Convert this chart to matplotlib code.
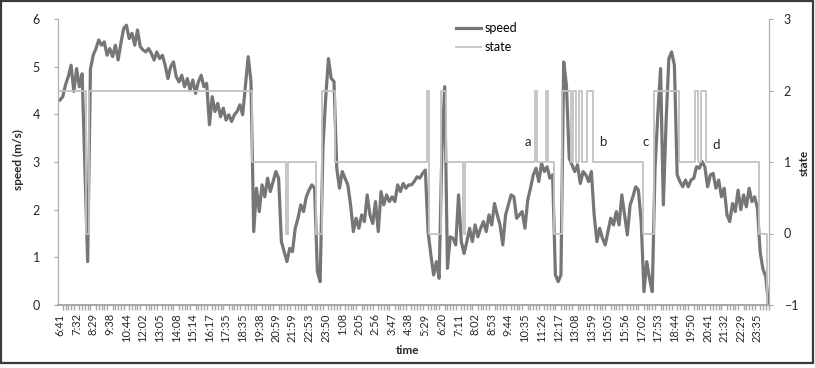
import numpy as np
import matplotlib.pyplot as plt
from matplotlib.patches import Rectangle

plt.rcParams['font.family'] = ['Lato', 'DejaVu Sans']

# speed (m/s), one value per sample
speed = [4.30, 4.37, 4.62, 4.79, 5.03, 4.48, 4.96, 4.58, 4.85, 2.90,
         0.91, 4.95, 5.24, 5.38, 5.56, 5.45, 5.52, 5.24, 5.38, 5.21,
         5.45, 5.14, 5.49, 5.80, 5.87, 5.59, 5.70, 5.45, 5.77, 5.42,
         5.35, 5.31, 5.38, 5.28, 5.14, 5.31, 5.17, 5.24, 5.03, 4.75,
         5.00, 5.10, 4.79, 4.68, 4.82, 4.58, 4.75, 4.51, 4.72, 4.44,
         4.68, 4.82, 4.58, 4.65, 3.78, 4.37, 4.06, 4.23, 3.95, 4.13,
         3.88, 3.99, 3.85, 3.99, 4.06, 4.20, 3.99, 4.60, 5.21, 4.69,
         1.54, 2.45, 1.96, 2.52, 2.27, 2.66, 2.38, 2.59, 2.80, 2.66,
         1.33, 1.12, 0.91, 1.19, 1.12, 1.61, 1.82, 2.10, 1.96, 2.27,
         2.41, 2.52, 2.45, 0.70, 0.49, 3.29, 4.34, 5.17, 4.75, 4.69,
         2.87, 2.45, 2.80, 2.66, 2.52, 2.10, 1.54, 1.82, 1.61, 1.89,
         1.75, 2.31, 1.89, 1.71, 2.17, 1.54, 2.38, 2.10, 2.31, 2.17,
         2.27, 2.17, 2.52, 2.38, 2.55, 2.45, 2.52, 2.52, 2.59, 2.69,
         2.66, 2.76, 2.83, 1.54, 1.05, 0.63, 0.91, 0.56, 3.29, 4.58,
         0.77, 1.43, 1.40, 1.26, 2.31, 1.33, 1.08, 1.33, 1.61, 1.33,
         1.68, 1.43, 1.61, 1.75, 1.54, 1.89, 1.68, 2.13, 1.89, 1.68,
         1.26, 1.89, 2.10, 2.31, 2.27, 1.82, 1.89, 1.96, 1.61, 2.20,
         2.45, 2.73, 2.87, 2.59, 2.97, 2.80, 2.90, 2.66, 2.73, 0.63,
         0.49, 0.63, 5.10, 4.60, 3.08, 2.94, 2.80, 2.94, 2.55, 2.80,
         2.73, 2.59, 2.80, 1.89, 1.33, 1.61, 1.40, 1.26, 1.54, 1.82,
         1.68, 1.96, 1.68, 2.31, 1.89, 1.47, 2.10, 2.27, 2.48, 2.41,
         1.75, 0.28, 0.91, 0.56, 0.28, 2.87, 3.99, 4.96, 2.10, 3.85,
         5.17, 5.31, 5.03, 2.73, 2.59, 2.48, 2.62, 2.48, 2.62, 2.66,
         2.90, 2.87, 3.01, 2.90, 2.48, 2.73, 2.76, 2.45, 2.62, 2.27,
         2.45, 1.89, 1.75, 2.13, 1.96, 2.41, 2.00, 2.31, 2.06, 2.45,
         2.17, 2.27, 2.03, 1.10, 0.75, 0.60, 0.00]

# state as runs: level and number of samples
state_levels = [2, 0, 2, 1, 0, 1, 0, 2, 1, 2, 0, 2, 1, 0, 1, 2, 1, 2, 1, 0,
                2, 1, 2, 1, 2, 1, 2, 1, 0, 2, 1, 2, 1, 2, 1, 0, -1]
state_lengths = [10, 1, 59, 12, 1, 10, 2, 5, 33, 1, 4, 2, 6, 1, 25, 1, 3, 1, 2, 3,
                 3, 1, 1, 1, 1, 2, 2, 18, 4, 9, 6, 1, 1, 2, 19, 3, 1]

time_labels = ['6:41', '7:32', '8:29', '9:38', '10:44', '12:02', '13:05', '14:08',
               '15:14', '16:17', '17:35', '18:35', '19:38', '20:59', '21:59',
               '22:53', '23:50', '1:08', '2:05', '2:56', '3:47', '4:38', '5:29',
               '6:20', '7:11', '8:02', '8:53', '9:44', '10:35', '11:26', '12:17',
               '13:08', '13:59', '15:05', '15:56', '17:02', '17:53', '18:44',
               '19:50', '20:41', '21:32', '22:29', '23:35']

marks = ['a', 'b', 'c', 'd']
mark_x = [169, 196, 211.5, 237]
mark_y = [3.30, 3.29, 3.29, 3.23]

state = np.repeat(state_levels, state_lengths)
x = np.arange(len(speed))

fig = plt.figure(figsize=(8.15, 3.68), dpi=100)
ax = fig.add_axes([58/815, 1-305/368, (768.5-58)/815, (305-19)/368])
l1, = ax.plot(x, speed, color='#767676', lw=2.3, label='speed')
ax.set_xlim(-0.72, 256)
ax.set_ylim(0, 6)
ax.set_yticks(range(0, 7))

ax2 = ax.twinx()
l2, = ax2.plot(x, state, color='#c2c2c2', lw=1.3, drawstyle='steps-mid', label='state')
ax2.set_ylim(-1, 3)
ax2.set_yticks(range(-1, 4))

step = 6
ax.set_xticks(np.arange(len(time_labels)) * step)
ax.set_xticklabels(time_labels, rotation=90, fontsize=8, color='#262626')
ax.set_xticks(x, minor=True)
ax.tick_params(axis='x', which='major', length=0, pad=6)
ax.tick_params(axis='x', which='minor', length=3.5, width=1.0, color='#a8a8a8')
ax.tick_params(axis='y', length=3, color='#a6a6a6', labelsize=9, labelcolor='#262626', pad=10)
ax2.tick_params(axis='y', length=3, color='#a6a6a6', labelsize=9, labelcolor='#262626', pad=8)

for a in (ax, ax2):
    a.spines['top'].set_visible(False)
    for s in ('left', 'right'):
        a.spines[s].set_color('#b0b0b0')
    a.spines['bottom'].set_color('#a8a8a8')
    a.spines['bottom'].set_linewidth(1.4)

for m, mx, my in zip(marks, mark_x, mark_y):
    ax.text(mx, my, m, fontsize=9.5, ha='center', va='bottom', color='#262626')

fig.text(18/815, 1-160/368, 'speed (m/s)', rotation=90, ha='center', va='center',
         fontsize=8.5, fontweight='bold', color='#262626')
fig.text(804/815, 1-163/368, 'state', rotation=90, ha='center', va='center',
         fontsize=8.5, fontweight='bold', color='#262626')
fig.text(408/815, 1-350/368, 'time', ha='center', va='center',
         fontsize=8.5, fontweight='bold', color='#262626')

fig.legend([l1, l2], ['speed', 'state'], loc='upper left',
           bbox_to_anchor=(456/815, 1-22/368), frameon=False, fontsize=9,
           handlelength=2.0, handletextpad=0.3, labelspacing=0.55,
           borderpad=0, borderaxespad=0)

fig.patches.append(Rectangle((0.001, 0.013), 0.997, 0.985, transform=fig.transFigure,
                             fill=False, ec='#3a3a3a', lw=1.6))

fig.savefig('out.png', dpi=100)
